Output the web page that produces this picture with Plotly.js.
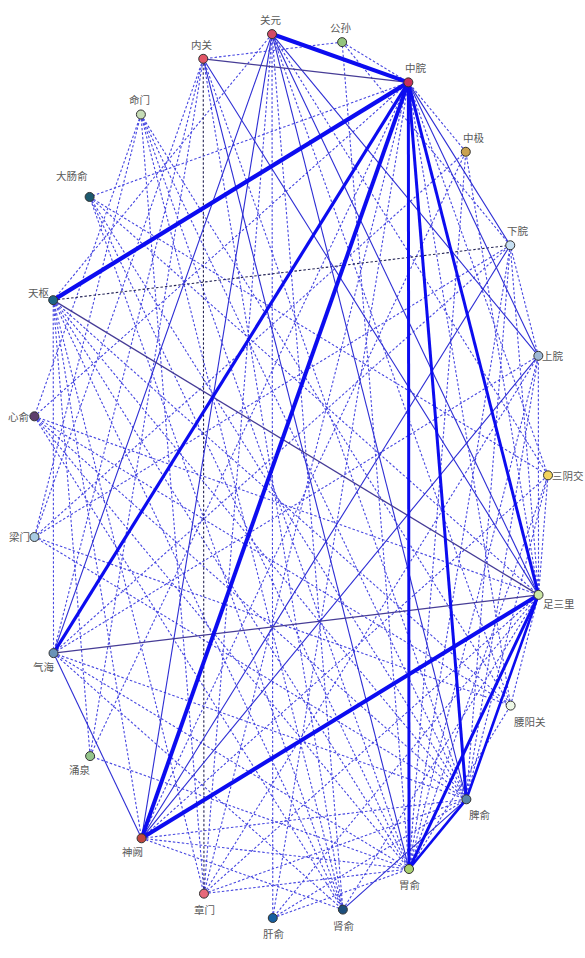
<!DOCTYPE html>
<html>
<head>
<meta charset="utf-8">
<script src="https://cdn.plot.ly/plotly-3.0.1.min.js"></script>
<style>html,body{margin:0;padding:0;background:#fff;}#chart{width:585px;height:958px;}</style>
</head>
<body>
<div id="chart"></div>
<script>
// ---- data ----
const nodes = ["关元","公孙","中脘","中极","下脘","上脘","三阴交","足三里","腰阳关","脾俞","胃俞","肾俞","肝俞","章门","神阙","涌泉","气海","梁门","心俞","天枢","大肠俞","命门","内关"];
const nodeColors = ["#d24a66","#93c47d","#c8315a","#c9a14f","#c7e0f2","#9db8d6","#f2d35c","#cbe6a3","#eef8e6","#5a86a8","#a9d06f","#1d4e7c","#165fa0","#e7697a","#c0473f","#93c58a","#6a93b8","#a9cbe3","#5e3f6e","#1f6586","#1c5a6e","#c6dcb6","#e25566"];

const solidFrom   = ["关元","中脘","中脘","足三里","中脘","中脘","中脘","中脘","足三里","脾俞","足三里","内关","天枢","气海","气海","气海","神阙","神阙","神阙","内关","内关","关元","关元","关元","中脘","中脘","肾俞"];
const solidTo     = ["中脘","天枢","神阙","神阙","气海","胃俞","脾俞","足三里","胃俞","胃俞","脾俞","中脘","足三里","足三里","神阙","关元","关元","下脘","上脘","足三里","胃俞","脾俞","足三里","上脘","下脘","上脘","脾俞"];
const solidWeight = [4.2,4.2,4,4,3.2,3,3,3,3,2.6,2.6,1.3,1.3,1.3,1.1,1.1,1.1,1.1,1.1,1.1,1.1,1.1,1.1,1.1,1.1,1.1,1.1];
const darkSolid   = ["内关-中脘","气海-足三里","天枢-足三里"];

const dashedFrom = ["命门","命门","命门","命门","命门","命门","命门","大肠俞","大肠俞","大肠俞","大肠俞","天枢","天枢","天枢","天枢","天枢","天枢","天枢","天枢","天枢","天枢","心俞","心俞","心俞","心俞","心俞","梁门","梁门","气海","气海","气海","气海","涌泉","神阙","神阙","神阙","神阙","章门","章门","章门","章门","章门","肝俞","肝俞","肝俞","肾俞","肾俞","胃俞","胃俞","胃俞","胃俞","胃俞","胃俞","脾俞","脾俞","脾俞","脾俞","腰阳关","腰阳关","足三里","足三里","足三里","足三里","足三里","三阴交","三阴交","上脘","上脘","下脘","中极","中极","公孙","公孙","关元","关元","关元","内关","内关","中脘","中脘","中脘","章门","关元","胃俞","脾俞","肾俞","下脘"];
const dashedTo   = ["心俞","梁门","胃俞","脾俞","腰阳关","肾俞","章门","胃俞","脾俞","三阴交","足三里","下脘","气海","神阙","胃俞","脾俞","章门","关元","腰阳关","肾俞","涌泉","胃俞","脾俞","腰阳关","足三里","肾俞","内关","腰阳关","胃俞","肾俞","脾俞","下脘","内关","胃俞","脾俞","肾俞","中极","内关","胃俞","脾俞","足三里","中脘","胃俞","脾俞","中脘","足三里","关元","公孙","三阴交","腰阳关","上脘","下脘","中极","内关","三阴交","上脘","下脘","足三里","中脘","中极","三阴交","下脘","上脘","肝俞","中脘","神阙","下脘","气海","公孙","中脘","梁门","中脘","内关","肝俞","腰阳关","三阴交","肾俞","气海","心俞","涌泉","大肠俞","上脘","章门","涌泉","梁门","大肠俞","梁门"];
const darkDashed = ["章门-内关","天枢-下脘"];

// ---- circular layout ----
const N = nodes.length;
const t0 = -4 * Math.PI / 180;
const pos = {};
nodes.forEach((n, k) => {
  const t = t0 + k * 2 * Math.PI / N;
  pos[n] = {x: Math.sin(t), y: Math.cos(t), t: t};
});

function edgeTrace(pairs, style) {
  const xs = [], ys = [];
  pairs.forEach(([a, b]) => {
    xs.push(pos[a].x, pos[b].x, null);
    ys.push(pos[a].y, pos[b].y, null);
  });
  return {type: "scatter", mode: "lines", x: xs, y: ys, hoverinfo: "skip", showlegend: false,
          line: Object.assign({}, style)};
}

const traces = [];
// dashed
const dNorm = [], dDark = [];
dashedFrom.forEach((a, i) => {
  const b = dashedTo[i];
  if (darkDashed.includes(a + "-" + b) || darkDashed.includes(b + "-" + a)) dDark.push([a, b]);
  else dNorm.push([a, b]);
});
traces.push(edgeTrace(dNorm, {color: "rgb(70,70,225)", width: 1.1, dash: "2.5px,2px"}));
traces.push(edgeTrace(dDark, {color: "rgb(35,35,85)", width: 1.1, dash: "2.5px,2px"}));

// solid grouped by weight
const groups = {};
solidFrom.forEach((a, i) => {
  const b = solidTo[i];
  const dark = darkSolid.includes(a + "-" + b) || darkSolid.includes(b + "-" + a);
  const key = solidWeight[i] + "|" + (dark ? "d" : "n");
  (groups[key] = groups[key] || []).push([a, b]);
});
Object.keys(groups).sort((p, q) => parseFloat(p) - parseFloat(q)).forEach(key => {
  const [w, d] = key.split("|");
  const wt = parseFloat(w);
  let color = wt >= 2.5 ? "rgb(12,12,240)" : "rgb(45,45,212)";
  if (d === "d") color = "rgb(70,60,150)";
  traces.push(edgeTrace(groups[key], {color: color, width: wt}));
});

// nodes
traces.push({
  type: "scatter", mode: "markers",
  x: nodes.map(n => pos[n].x), y: nodes.map(n => pos[n].y),
  text: nodes, hoverinfo: "text", showlegend: false,
  marker: {size: 9, color: nodeColors, line: {color: "#333", width: 1}}
});

// label placement (style)
const labelSide = ["top","top","topright","topright","topright","right","right","rightlow","bottomright","bottomright","bottom","bottom","bottom","bottom","bottomleft","bottomleft","bottomleft","left","left","leftup","topleft","top","top"];
const annotations = nodes.map((n, k) => {
  const s = labelSide[k];
  const a = {x: pos[n].x, y: pos[n].y, text: n, showarrow: false, xref: "x", yref: "y",
             font: {family: "Noto Sans CJK SC, sans-serif", size: 10.5, color: "#5a5a5a"}};
  if (s === "top") { a.xanchor = "center"; a.yanchor = "bottom"; a.yshift = 5; a.xshift = -1; }
  else if (s === "topright") { a.xanchor = "left"; a.yanchor = "bottom"; a.yshift = 5; a.xshift = -5; }
  else if (s === "right") { a.xanchor = "left"; a.yanchor = "middle"; a.xshift = 2; }
  else if (s === "rightlow") { a.xanchor = "left"; a.yanchor = "middle"; a.xshift = 2; a.yshift = -9; }
  else if (s === "bottomright") { a.xanchor = "left"; a.yanchor = "top"; a.xshift = 1; a.yshift = -6; }
  else if (s === "bottom") { a.xanchor = "center"; a.yanchor = "top"; a.yshift = -6; a.xshift = 1; }
  else if (s === "bottomleft") { a.xanchor = "right"; a.yanchor = "top"; a.xshift = 3; a.yshift = -4; }
  else if (s === "left") { a.xanchor = "right"; a.yanchor = "middle"; a.xshift = -2; }
  else if (s === "leftup") { a.xanchor = "right"; a.yanchor = "middle"; a.xshift = -1; a.yshift = 8; }
  else if (s === "topleft") { a.xanchor = "right"; a.yanchor = "bottom"; a.xshift = 0; a.yshift = 12; }
  return a;
});

const layout = {
  width: 585, height: 958,
  margin: {l: 0, r: 0, t: 0, b: 0},
  paper_bgcolor: "#ffffff", plot_bgcolor: "#ffffff",
  xaxis: {range: [-290 / 258, 295 / 258], visible: false, fixedrange: true},
  yaxis: {range: [-482 / 443, 476 / 443], visible: false, fixedrange: true},
  annotations: annotations,
  showlegend: false
};
Plotly.newPlot("chart", traces, layout, {displayModeBar: false, staticPlot: true});
</script>
</body>
</html>
